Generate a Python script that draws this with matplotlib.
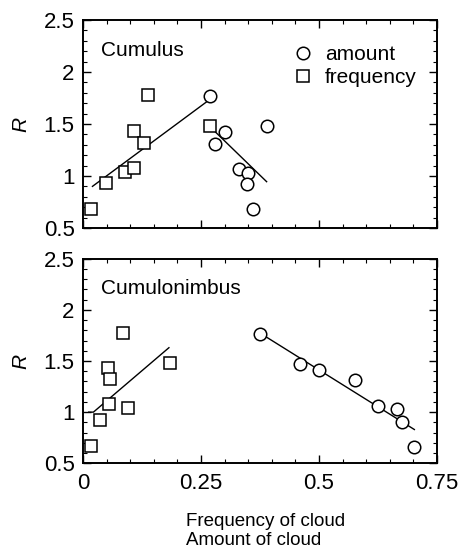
import numpy as np
import matplotlib
matplotlib.use("Agg")
import matplotlib.pyplot as plt
from matplotlib.lines import Line2D
from matplotlib.ticker import MultipleLocator

plt.rcParams['font.family'] = ['Liberation Sans', 'DejaVu Sans']

# Cumulus
cu_freq_x = [0.017, 0.048, 0.088, 0.109, 0.107, 0.129, 0.138, 0.270]
cu_freq_y = [0.68, 0.93, 1.04, 1.08, 1.43, 1.32, 1.78, 1.48]
cu_amt_x = [0.269, 0.300, 0.280, 0.330, 0.350, 0.348, 0.361, 0.389]
cu_amt_y = [1.77, 1.42, 1.31, 1.07, 1.03, 0.92, 0.68, 1.48]
cu_freq_fit_x = [0.020, 0.267]
cu_freq_fit_y = [0.90, 1.73]
cu_amt_fit_x = [0.272, 0.389]
cu_amt_fit_y = [1.46, 0.945]

# Cumulonimbus
cb_freq_x = [0.016, 0.037, 0.054, 0.052, 0.058, 0.095, 0.085, 0.184]
cb_freq_y = [0.67, 0.92, 1.08, 1.43, 1.32, 1.04, 1.77, 1.48]
cb_amt_x = [0.376, 0.460, 0.500, 0.577, 0.626, 0.665, 0.676, 0.702]
cb_amt_y = [1.76, 1.47, 1.41, 1.31, 1.06, 1.03, 0.90, 0.66]
cb_freq_fit_x = [0.012, 0.022, 0.182]
cb_freq_fit_y = [1.00, 1.00, 1.63]
cb_amt_fit_x = [0.376, 0.702]
cb_amt_fit_y = [1.77, 0.83]

xticks = [0, 0.25, 0.5, 0.75]
xticklabels = ['0', '0.25', '0.5', '0.75']
yticks = [0.5, 1, 1.5, 2, 2.5]
yticklabels = ['0.5', '1', '1.5', '2', '2.5']

fig = plt.figure(figsize=(4.68, 5.48), dpi=100)
ax1 = fig.add_axes([0.1774, 0.584, 0.7564, 0.3796])
ax2 = fig.add_axes([0.1774, 0.1546, 0.7564, 0.3733])

mk = dict(linestyle='none', markersize=9, markerfacecolor='white',
          markeredgecolor='black', markeredgewidth=1.1)

for ax, fx, fy, ax_, ay, ffx, ffy, afx, afy, name in [
        (ax1, cu_freq_x, cu_freq_y, cu_amt_x, cu_amt_y,
         cu_freq_fit_x, cu_freq_fit_y, cu_amt_fit_x, cu_amt_fit_y, 'Cumulus'),
        (ax2, cb_freq_x, cb_freq_y, cb_amt_x, cb_amt_y,
         cb_freq_fit_x, cb_freq_fit_y, cb_amt_fit_x, cb_amt_fit_y, 'Cumulonimbus')]:
    ax.plot(ffx, ffy, color='black', lw=1.0)
    ax.plot(afx, afy, color='black', lw=1.0)
    ax.plot(fx, fy, marker='s', **mk)
    ax.plot(ax_, ay, marker='o', **mk)
    ax.set_xlim(0, 0.75)
    ax.set_ylim(0.5, 2.5)
    ax.set_xticks(xticks)
    ax.set_yticks(yticks)
    ax.set_yticklabels(yticklabels)
    ax.xaxis.set_minor_locator(MultipleLocator(0.05))
    ax.yaxis.set_minor_locator(MultipleLocator(0.1))
    ax.tick_params(which='both', direction='in', top=True, right=True,
                   labelsize=16)
    ax.tick_params(axis='y', pad=6)
    ax.tick_params(axis='x', pad=7)
    ax.tick_params(which='major', length=6, width=1.0)
    ax.tick_params(which='minor', length=3, width=0.8)
    for s in ax.spines.values():
        s.set_linewidth(1.4)
    ax.set_ylabel('R', fontsize=15, style='italic')
    ax.yaxis.set_label_coords(-0.15, 0.5)
    ax.text(0.05, 0.855, name, transform=ax.transAxes, fontsize=15,
            ha='left', va='center')

ax1.set_xticklabels([])
ax2.set_xticklabels(xticklabels)

handles = [Line2D([], [], marker='o', **mk), Line2D([], [], marker='s', **mk)]
ax1.legend(handles, ['amount', 'frequency'], loc='upper left',
           bbox_to_anchor=(0.592, 0.878), frameon=False, fontsize=15,
           borderpad=0, borderaxespad=0, handlelength=1.0,
           handletextpad=0.55, labelspacing=0.2)

fig.text(185.7 / 468, 1 - 522 / 548, 'Frequency of cloud', fontsize=13.5,
         ha='left', va='center')
fig.text(185.7 / 468, 1 - 540.5 / 548, 'Amount of cloud', fontsize=13.5,
         ha='left', va='center')

fig.savefig('out.png', dpi=100)
